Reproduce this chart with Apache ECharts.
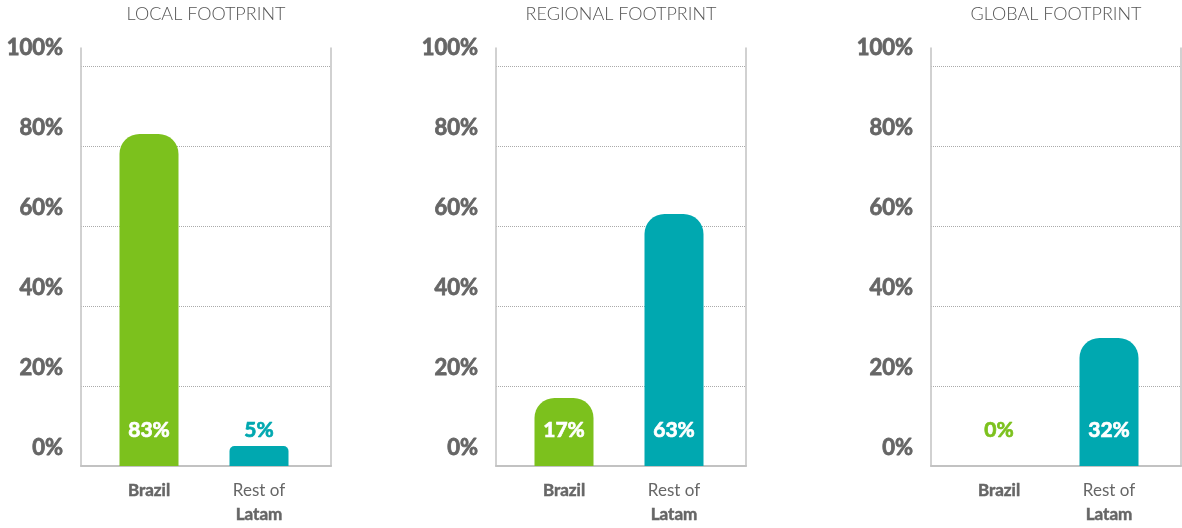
<!DOCTYPE html>
<html>
<head>
<meta charset="utf-8">
<script src="https://cdn.jsdelivr.net/npm/echarts@6/dist/echarts.min.js"></script>
<style>
  html, body { margin: 0; padding: 0; background: #fff; }
  #chart { width: 1182px; height: 528px; }
</style>
</head>
<body>
<div id="chart"></div>
<script>
// footprint panels
const panelTitles = ["LOCAL FOOTPRINT", "REGIONAL FOOTPRINT", "GLOBAL FOOTPRINT"];
const categories = ["Brazil", "Rest of Latam"];
const brazilShare = [83, 17, 0];
const restOfLatamShare = [5, 63, 32];
const yTicks = [0, 20, 40, 60, 80, 100];

const GREEN = "#7cc11d";
const TEAL = "#00a8b0";
const GRAY = "#666";
const FONT = "Lato, 'Open Sans', sans-serif";

// frame left edges of the three panels
const frameLeft = [81, 496, 931];
const frameWidth = 250;
const gridTop = 48, gridBottom = 62;
const yMax = 104.5;

let grids = [], xAxes = [], yAxes = [], series = [], titles = [];

function catLabel(name) {
  const words = name.split(" ");
  if (words.length == 1) return "{b|" + name + "}";
  return "{n|" + words.slice(0, -1).join(" ") + "}\n{b|" + words[words.length - 1] + "}";
}

panelTitles.forEach((title, i) => {
  const L = frameLeft[i];
  const gA = grids.length;
  const gB = gA + 1;

  titles.push({
    text: title,
    left: L + frameWidth / 2,
    top: 5,
    padding: 0,
    textAlign: "center",
    textStyle: { fontFamily: FONT, fontWeight: 300, fontSize: 18, color: "#555" },
  });

  // frame grid: y labels, dotted lines, frame lines
  grids.push({ left: L, width: frameWidth, top: gridTop, bottom: gridBottom });
  // bar grid: narrower so the bars sit nearer the middle
  grids.push({ left: L + 13, width: 220, top: gridTop, bottom: gridBottom });

  xAxes.push({
    gridIndex: gA,
    type: "value",
    min: 0,
    max: 1,
    axisLine: { show: true, onZero: false, lineStyle: { color: "#c2c2c2", width: 2 } },
    axisTick: { show: false },
    axisLabel: { show: false },
    splitLine: { show: false },
  });
  xAxes.push({
    gridIndex: gB,
    type: "category",
    data: categories,
    axisLine: { show: false },
    axisTick: { show: false },
    axisLabel: {
      margin: 13,
      interval: 0,
      formatter: catLabel,
      rich: {
        b: { fontFamily: FONT, fontWeight: "bold", fontSize: 17, color: GRAY, lineHeight: 24,
             textBorderColor: GRAY, textBorderWidth: 0.5 },
        n: { fontFamily: FONT, fontWeight: "normal", fontSize: 17, color: GRAY, lineHeight: 24 },
      },
    },
  });

  yAxes.push({
    gridIndex: gA,
    type: "value",
    min: 0,
    max: yMax,
    interval: 20,
    axisLine: { show: true, lineStyle: { color: "#c2c2c2", width: 1.5 } },
    axisTick: { show: false },
    axisLabel: {
      margin: 18,
      verticalAlign: "bottom",
      padding: [0, 0, 7, 0],
      fontFamily: FONT,
      fontWeight: "bold",
      fontSize: 22,
      color: GRAY,
      textBorderColor: GRAY,
      textBorderWidth: 0.8,
      formatter: (v) => (yTicks.indexOf(v) >= 0 ? v + "%" : ""),
    },
    splitLine: {
      show: true,
      showMinLine: false,
      showMaxLine: false,
      lineStyle: { type: "dotted", color: "#aaa", width: 1 },
    },
  });
  yAxes.push({
    gridIndex: gA,
    type: "value",
    position: "right",
    min: 0,
    max: yMax,
    axisLine: { show: true, lineStyle: { color: "#c2c2c2", width: 1.5 } },
    axisTick: { show: false },
    axisLabel: { show: false },
    splitLine: { show: false },
  });
  yAxes.push({
    gridIndex: gB,
    type: "value",
    min: 0,
    max: yMax,
    show: false,
  });

  const values = [brazilShare[i], restOfLatamShare[i]];
  const colors = [GREEN, TEAL];
  series.push({
    type: "bar",
    xAxisIndex: gB,
    yAxisIndex: yAxes.length - 1,
    barWidth: 59,
    data: values.map((v, k) => {
      const textColor = v > 12 ? "#fff" : colors[k];
      return {
        value: v,
        itemStyle: { color: colors[k], borderRadius: v < 10 ? [5, 5, 0, 0] : [20, 20, 0, 0] },
        label: { color: textColor, textBorderColor: textColor, textBorderWidth: 0.7 },
      };
    }),
    label: {
      show: true,
      position: "insideBottom",
      distance: 25,
      fontFamily: FONT,
      fontWeight: "bold",
      fontSize: 21,
      formatter: "{c}%",
    },
    silent: true,
  });
});

const chart = echarts.init(document.getElementById("chart"));
chart.setOption({
  animation: false,
  title: titles,
  grid: grids,
  xAxis: xAxes,
  yAxis: yAxes,
  series: series,
});
</script>
</body>
</html>
